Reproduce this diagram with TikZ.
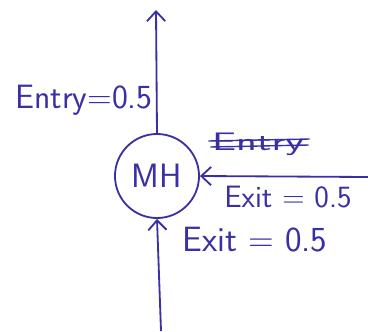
\documentclass[tikz,border=0pt]{standalone}
\usepackage{tikz}
\usetikzlibrary{arrows.meta,calc,positioning}
\definecolor{ink}{RGB}{58,48,165}

\begin{document}
\begin{tikzpicture}[x=0.025cm,y=-0.025cm,
    flow/.style={-{Straight Barb[length=7pt,width=13pt]}, ink, line width=1.3pt},
    lbl/.style={ink, font=\sffamily\fontsize{22}{26}\selectfont, inner sep=1pt}]
      % Frame
      \useasboundingbox (0,0) rectangle (368,331);
      % Define coordinates
      \coordinate (T) at (156,10);
      \coordinate (R) at (368,177);
      \coordinate (B) at (161,331);
      % Manhole
      \node[draw=ink, line width=1.3pt, circle, minimum size=2.1cm, ink,
            font=\sffamily\fontsize{24}{28}\selectfont] (mh) at (157,176) {MH};
      % Flows
      \draw[flow] (mh.north) -- (T);
      \draw[flow] (R) -- (mh.east);
      \draw[flow] (B) -- (mh.south);
      % Labels
      \node[lbl, font=\sffamily\fontsize{24}{28}\selectfont] (entry) at (84,100) {Entry=0.5};
      \node[lbl, font=\sffamily\fontsize{18}{22}\selectfont] (strk) at (258,144) {\scalebox{1.7}[1]{Entry}};
      \draw[ink, line width=1pt] ($(strk.west)+(-2,-3)$) -- ($(strk.east)+(4,-5)$);
      \draw[ink, line width=1pt] ($(strk.west)+(0,3)$) -- ($(strk.east)+(3,1)$);
      \node[lbl] (exitr) at (288,197) {Exit = 0.5};
      \node[lbl, font=\sffamily\fontsize{25}{30}\selectfont] (exitb) at (255,240) {Exit = 0.5};
\end{tikzpicture}
\end{document}
